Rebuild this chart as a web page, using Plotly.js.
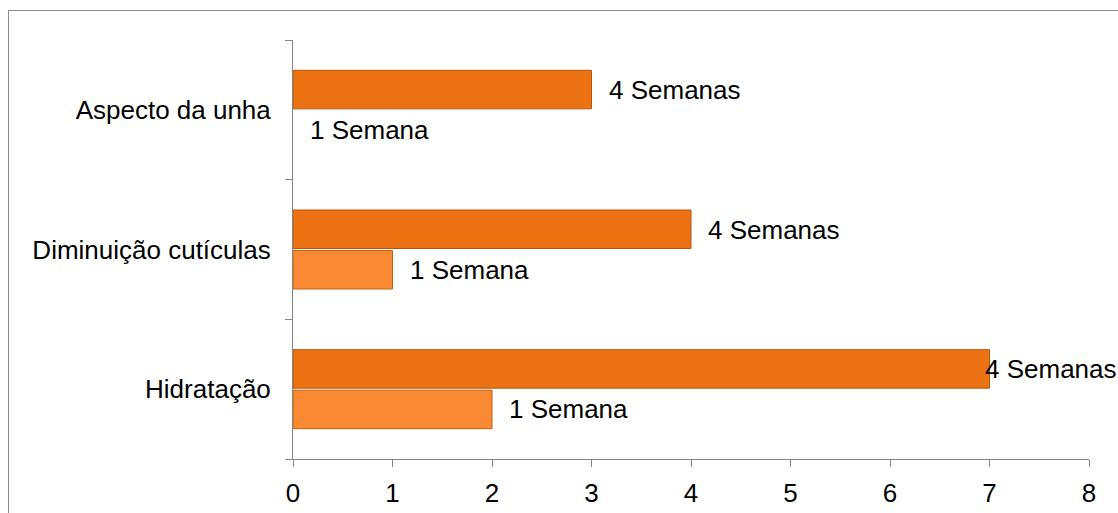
<!DOCTYPE html>
<html>
<head>
<meta charset="utf-8">
<script src="https://cdn.plot.ly/plotly-3.0.1.min.js"></script>
<style>
  html, body { margin: 0; padding: 0; background: #fff; }
  #wrap { position: relative; width: 1118px; height: 513px; overflow: hidden; }
  #frame { position: absolute; left: 8px; top: 10px; width: 1200px; height: 600px;
           border-left: 1px solid #8c8c8c; border-top: 1px solid #8c8c8c; pointer-events: none; }
  #chart { position: absolute; left: 0; top: 0; width: 1118px; height: 513px; }
</style>
</head>
<body>
<div id="wrap">
  <div id="chart"></div>
  <div id="frame"></div>
</div>
<script>
// Data
const categories = ["Hidratação", "Diminuição cutículas", "Aspecto da unha"];
const series1Name = "1 Semana";
const series1Values = [2, 1, 0];
const series2Name = "4 Semanas";
const series2Values = [7, 4, 3];
const xTicks = [0, 1, 2, 3, 4, 5, 6, 7, 8];

const FONT = "Liberation Sans, Arial, sans-serif";
const FS = 26;
const AXIS = "#868686";

const traces = [
  {
    type: "bar", orientation: "h", name: series1Name,
    y: categories, x: series1Values,
    marker: { color: "#F98A33", line: { color: "#C2600F", width: series1Values.map(v => v > 0 ? 1 : 0) } },
    hoverinfo: "none"
  },
  {
    type: "bar", orientation: "h", name: series2Name,
    y: categories, x: series2Values,
    marker: { color: "#EC7214", line: { color: "#B3570C", width: series2Values.map(v => v > 0 ? 1 : 0) } },
    hoverinfo: "none"
  }
];

const annotations = [];
categories.forEach((c, i) => {
  annotations.push({
    x: series1Values[i], y: c, xref: "x", yref: "y",
    text: series1Name, showarrow: false, xanchor: "left", yanchor: "middle",
    xshift: 15, yshift: -20, font: { family: FONT, size: FS, color: "#000" }
  });
  const overflow = series2Values[i] >= 7;
  annotations.push({
    x: series2Values[i], y: c, xref: "x", yref: "y",
    text: series2Name, showarrow: false, xanchor: "left", yanchor: "middle",
    xshift: overflow ? -7 : 15, yshift: 20, font: { family: FONT, size: FS, color: "#000" }
  });
});

const layout = {
  width: 1118, height: 513,
  margin: { l: 293, r: 29, t: 40, b: 54, pad: 0 },
  paper_bgcolor: "rgba(0,0,0,0)", plot_bgcolor: "rgba(0,0,0,0)",
  showlegend: false,
  barmode: "group", bargap: 0.42, bargroupgap: 0.05,
  font: { family: FONT, size: FS, color: "#000" },
  xaxis: {
    range: [0, 8], tickvals: xTicks, ticktext: xTicks.map(String),
    showgrid: false, zeroline: false, showline: true, linecolor: AXIS, linewidth: 1,
    ticks: "outside", ticklen: 7, tickcolor: AXIS, tickwidth: 1,
    tickfont: { family: FONT, size: FS, color: "#000" }, ticklabelstandoff: 4,
    fixedrange: true
  },
  yaxis: {
    type: "category", categoryorder: "array", categoryarray: categories,
    showgrid: false, zeroline: false, showline: true, linecolor: AXIS, linewidth: 1,
    ticks: "outside", tickson: "boundaries", ticklen: 7, tickcolor: AXIS, tickwidth: 1,
    tickfont: { family: FONT, size: FS, color: "#000" }, ticklabelstandoff: 16,
    fixedrange: true
  },
  annotations: annotations
};

Plotly.newPlot("chart", traces, layout, { displayModeBar: false, staticPlot: true });
</script>
</body>
</html>
